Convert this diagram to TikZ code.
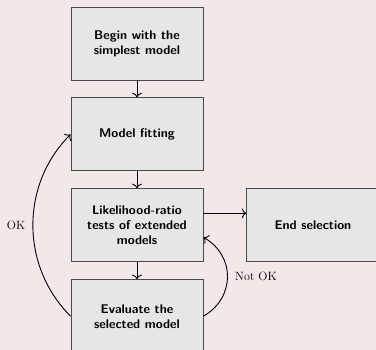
\documentclass[tikz,border=0pt]{standalone}
\usepackage{xcolor}
\usepackage{tikz}
\usetikzlibrary{arrows.meta, positioning, calc}

\definecolor{pagebg}{HTML}{F2E8E8}
\definecolor{boxfill}{HTML}{E6E6E6}
\definecolor{boxline}{HTML}{4A4A4A}

\begin{document}
\begin{tikzpicture}[
    node distance=17pt and 43pt,
    stage/.style={rectangle, draw=boxline, fill=boxfill, line width=0.9pt, minimum width=132pt, minimum height=73pt, align=center, font=\sffamily\bfseries\fontsize{12.6}{15}\selectfont},
    arrow/.style={-{To[scale=1.3]}, line width=0.9pt},
    lbl/.style={font=\fontsize{12}{15}\selectfont}
]

% page and its margins
\coordinate (corner) at (-137pt,43.5pt);
\fill[pagebg] (corner) rectangle ++(376pt,-350pt);
\clip (corner) rectangle ++(376pt,-350pt);

\node[stage] (begin) at (0,0) {Begin with the\\simplest model};
\node[stage, below=of begin] (fit) {Model fitting};
\node[stage, below=of fit] (lrt) {Likelihood-ratio\\tests of extended\\models};
\node[stage, below=of lrt] (eval) {Evaluate the\\selected model};
\node[stage, right=of lrt] (stop) {End selection};

\draw[arrow] (begin) -- (fit);
\draw[arrow] (fit) -- (lrt);
\draw[arrow] (lrt) -- (eval);
\draw[arrow] ($(lrt.east)+(0,12pt)$) -- ($(stop.west)+(0,12pt)$);

% loops back
\draw[arrow] (eval.west) to[bend left=45] node[lbl, left=4pt] {OK} (fit.west);
\draw[arrow] (eval.east) to[bend right=60, looseness=1.2] node[lbl, right=4pt] {Not OK} ($(lrt.east)+(0,-12pt)$);

\end{tikzpicture}
\end{document}
